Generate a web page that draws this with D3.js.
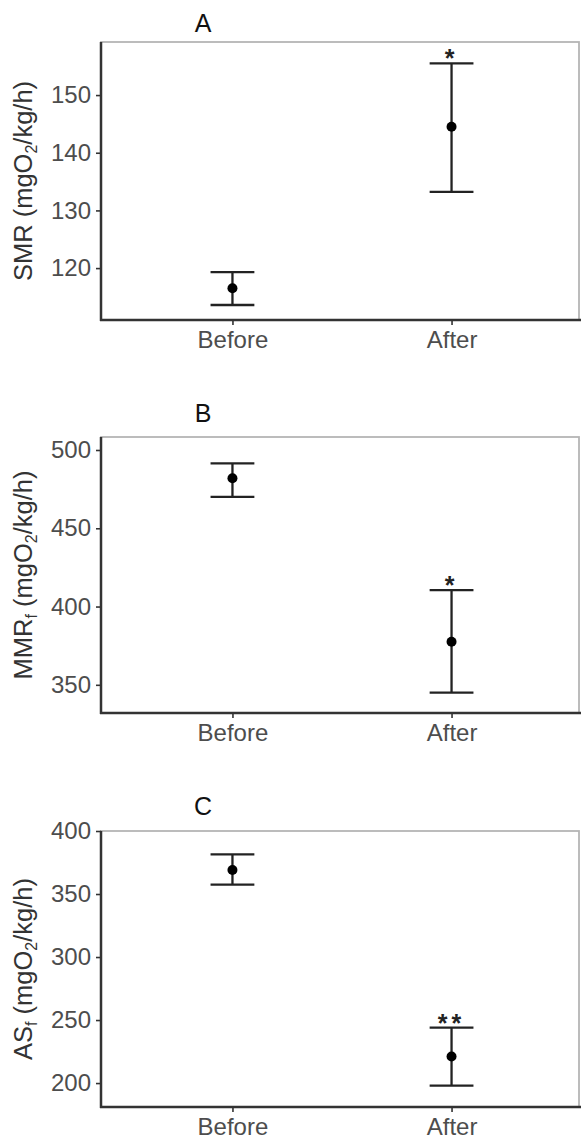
<!DOCTYPE html>
<html>
<head>
<meta charset="utf-8">
<script src="https://cdn.jsdelivr.net/npm/d3@7"></script>
<style>
  body { margin: 0; background: #fff; }
  svg { display: block; font-family: "Liberation Sans", Arial, sans-serif; }
</style>
</head>
<body>
<div class="chart-wrapper"></div>
<script>
var width = 581, height = 1148;

// categories
var groups = ["Before", "After"];

// panel A - SMR
var smrMean = [116.5, 144.5];
var smrUpper = [119.3, 155.5];
var smrLower = [113.6, 133.2];
var smrTicks = [120, 130, 140, 150];
var smrStars = ["", "*"];

// panel B - MMRf
var mmrMean = [482, 377.5];
var mmrUpper = [491.5, 410.5];
var mmrLower = [470, 345];
var mmrTicks = [350, 400, 450, 500];
var mmrStars = ["", "*"];

// panel C - ASf
var asMean = [369, 221];
var asUpper = [381.5, 244];
var asLower = [357.5, 198];
var asTicks = [200, 250, 300, 350, 400];
var asStars = ["", "**"];

var panels = [
  { title: "A", label: "SMR", sub: "", mean: smrMean, upper: smrUpper, lower: smrLower,
    ticks: smrTicks, stars: smrStars, domain: [111, 159.2], top: 42, bottom: 320, titleY: 32 },
  { title: "B", label: "MMR", sub: "f", mean: mmrMean, upper: mmrUpper, lower: mmrLower,
    ticks: mmrTicks, stars: mmrStars, domain: [332, 508.3], top: 437, bottom: 713, titleY: 422 },
  { title: "C", label: "AS", sub: "f", mean: asMean, upper: asUpper, lower: asLower,
    ticks: asTicks, stars: asStars, domain: [181, 400], top: 831, bottom: 1107, titleY: 815 }
];

var left = 101, right = 579;

var svg = d3.select(".chart-wrapper").append("svg")
  .attr("width", width)
  .attr("height", height);

var x = d3.scalePoint()
  .domain(groups)
  .range([left, right + 4])
  .padding(0.6);

var capHalf = x.step() * 0.1;

panels.forEach(function (p) {
  var y = d3.scaleLinear()
    .domain(p.domain)
    .range([p.bottom, p.top]);

  var g = svg.append("g");

  // panel border (grey, top and right)
  g.append("rect")
    .attr("x", left)
    .attr("y", p.top)
    .attr("width", right - left)
    .attr("height", p.bottom - p.top)
    .attr("fill", "none")
    .attr("stroke", "#b5b5b5")
    .attr("stroke-width", 1.8);

  // y axis
  var ya = g.append("g")
    .attr("transform", "translate(" + left + ",0)")
    .call(d3.axisLeft(y).tickValues(p.ticks).tickSize(5).tickSizeOuter(0).tickPadding(5));
  ya.select(".domain").remove();
  ya.selectAll(".tick line").attr("stroke", "#333").attr("stroke-width", 1.6);
  ya.selectAll(".tick text").attr("fill", "#4d4d4d").style("font-size", "24px")
    .style("font-family", "'Liberation Sans', Arial, sans-serif");

  // x axis
  var xa = g.append("g")
    .attr("transform", "translate(0," + p.bottom + ")")
    .call(d3.axisBottom(x).tickSize(5).tickSizeOuter(0).tickPadding(6));
  xa.select(".domain").remove();
  xa.selectAll(".tick line").attr("stroke", "#333").attr("stroke-width", 1.6);
  xa.selectAll(".tick text").attr("fill", "#4d4d4d").style("font-size", "24px")
    .style("font-family", "'Liberation Sans', Arial, sans-serif");

  // axis lines
  g.append("line")
    .attr("x1", left).attr("x2", left)
    .attr("y1", p.top).attr("y2", p.bottom + 1)
    .attr("stroke", "#333").attr("stroke-width", 2.5);
  g.append("line")
    .attr("x1", left - 1).attr("x2", right + 2)
    .attr("y1", p.bottom).attr("y2", p.bottom)
    .attr("stroke", "#333").attr("stroke-width", 2.5);

  // title
  g.append("text")
    .attr("x", 203)
    .attr("y", p.titleY)
    .attr("text-anchor", "middle")
    .attr("fill", "#111")
    .style("font-size", "25px")
    .text(p.title);

  // y label
  var lab = g.append("text")
    .attr("transform", "translate(32," + (p.top + p.bottom) / 2 + ") rotate(-90)")
    .attr("text-anchor", "middle")
    .attr("fill", "#333")
    .style("font-size", "25.5px");
  lab.append("tspan").text(p.label);
  if (p.sub) {
    lab.append("tspan").attr("dy", 5).style("font-size", "16px").text(p.sub);
    lab.append("tspan").attr("dy", -5).text(" (mgO");
  } else {
    lab.append("tspan").text(" (mgO");
  }
  lab.append("tspan").attr("dy", 5).style("font-size", "16px").text("2");
  lab.append("tspan").attr("dy", -5).text("/kg/h)");

  var rows = groups.map(function (d, i) {
    return { grp: d, mean: p.mean[i], upper: p.upper[i], lower: p.lower[i], star: p.stars[i] };
  });

  // error bars
  g.selectAll(".err")
    .data(rows)
    .join("line")
    .attr("class", "err")
    .attr("x1", function (d) { return x(d.grp); })
    .attr("x2", function (d) { return x(d.grp); })
    .attr("y1", function (d) { return y(d.upper); })
    .attr("y2", function (d) { return y(d.lower); })
    .attr("stroke", "#222").attr("stroke-width", 2.3);

  g.selectAll(".capTop")
    .data(rows)
    .join("line")
    .attr("class", "capTop")
    .attr("x1", function (d) { return x(d.grp) - capHalf; })
    .attr("x2", function (d) { return x(d.grp) + capHalf; })
    .attr("y1", function (d) { return y(d.upper); })
    .attr("y2", function (d) { return y(d.upper); })
    .attr("stroke", "#222").attr("stroke-width", 2.3);

  g.selectAll(".capBot")
    .data(rows)
    .join("line")
    .attr("class", "capBot")
    .attr("x1", function (d) { return x(d.grp) - capHalf; })
    .attr("x2", function (d) { return x(d.grp) + capHalf; })
    .attr("y1", function (d) { return y(d.lower); })
    .attr("y2", function (d) { return y(d.lower); })
    .attr("stroke", "#222").attr("stroke-width", 2.3);

  // points
  g.selectAll(".pt")
    .data(rows)
    .join("circle")
    .attr("class", "pt")
    .attr("cx", function (d) { return x(d.grp); })
    .attr("cy", function (d) { return y(d.mean); })
    .attr("r", 5)
    .attr("fill", "#000");

  // significance stars
  g.selectAll(".star")
    .data(rows.filter(function (d) { return d.star; }))
    .join("text")
    .attr("class", "star")
    .attr("x", function (d) { return x(d.grp); })
    .attr("y", function (d) { return y(d.upper) + 4; })
    .attr("text-anchor", "middle")
    .attr("fill", "#222")
    .style("font-size", "25px")
    .style("font-weight", "bold")
    .style("letter-spacing", "4px")
    .text(function (d) { return d.star; });
});
</script>
</body>
</html>
